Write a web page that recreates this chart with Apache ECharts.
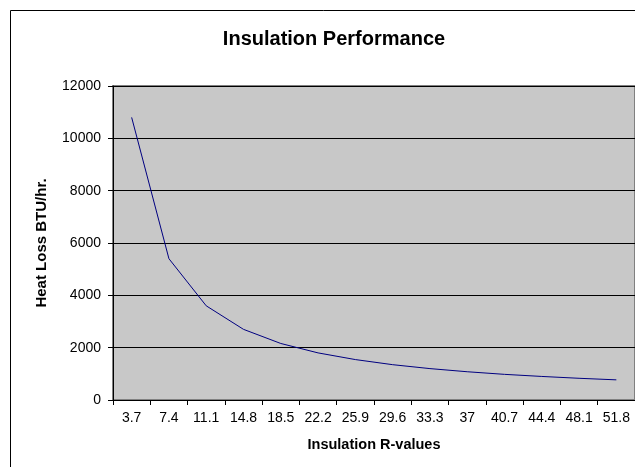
<!DOCTYPE html>
<html><head><meta charset="utf-8">
<script src="https://cdn.jsdelivr.net/npm/echarts@6/dist/echarts.min.js"></script>
<style>html,body{margin:0;padding:0;background:#fff}#c{width:635px;height:467px}</style>
</head><body><div id="c"></div>
<script>
var categories = ['3.7','7.4','11.1','14.8','18.5','22.2','25.9','29.6','33.3','37','40.7','44.4','48.1','51.8'];
var heatLoss = [10800, 5400, 3600, 2700, 2160, 1800, 1545, 1350, 1200, 1080, 980, 900, 830, 770];
var yTicks = [0, 2000, 4000, 6000, 8000, 10000, 12000];

var chart = echarts.init(document.getElementById('c'), null, {renderer:'canvas'});
var F = 'Arial, "Liberation Sans", sans-serif';
chart.setOption({
  animation:false,
  backgroundColor:'#ffffff',
  title:{text:'Insulation Performance', left:329, top:24, textAlign:'center',
    textStyle:{fontFamily:F, fontSize:20, fontWeight:'bold', color:'#000'}},
  graphic:[{type:'rect', shape:{x:10.5,y:10.5,width:700,height:500}, style:{fill:'none',stroke:'#000',lineWidth:1}, z:-1, silent:true}],
  grid:{left:113, top:86, width:525, height:314, show:true, backgroundColor:'#c8c8c8', borderColor:'#808080', borderWidth:2},
  xAxis:{type:'category', data:categories, boundaryGap:true,
    name:'Insulation R-values', nameLocation:'middle', nameGap:37,
    nameTextStyle:{fontFamily:F, fontSize:14.5, fontWeight:'bold', color:'#000'},
    axisLine:{lineStyle:{color:'#000', width:1}},
    axisTick:{show:true, alignWithLabel:false, length:5, lineStyle:{color:'#000'}},
    axisLabel:{fontFamily:F, fontSize:14, color:'#000', margin:11, interval:0},
    splitLine:{show:false}},
  yAxis:{type:'value', min:yTicks[0], max:yTicks[yTicks.length-1], interval:2000,
    name:'Heat Loss BTU/hr.', nameLocation:'middle', nameGap:64, nameRotate:90,
    nameTextStyle:{fontFamily:F, fontSize:15, fontWeight:'bold', color:'#000'},
    axisLine:{show:true, lineStyle:{color:'#000', width:1}},
    axisTick:{show:true, length:5, lineStyle:{color:'#000'}},
    axisLabel:{fontFamily:F, fontSize:14, color:'#000', margin:12, formatter:function(v){return String(v);}},
    splitLine:{show:true, lineStyle:{color:'#000', width:1}}},
  series:[{type:'line', data:heatLoss, symbol:'none', smooth:false,
    lineStyle:{color:'#000080', width:1}}]
});
</script></body></html>
